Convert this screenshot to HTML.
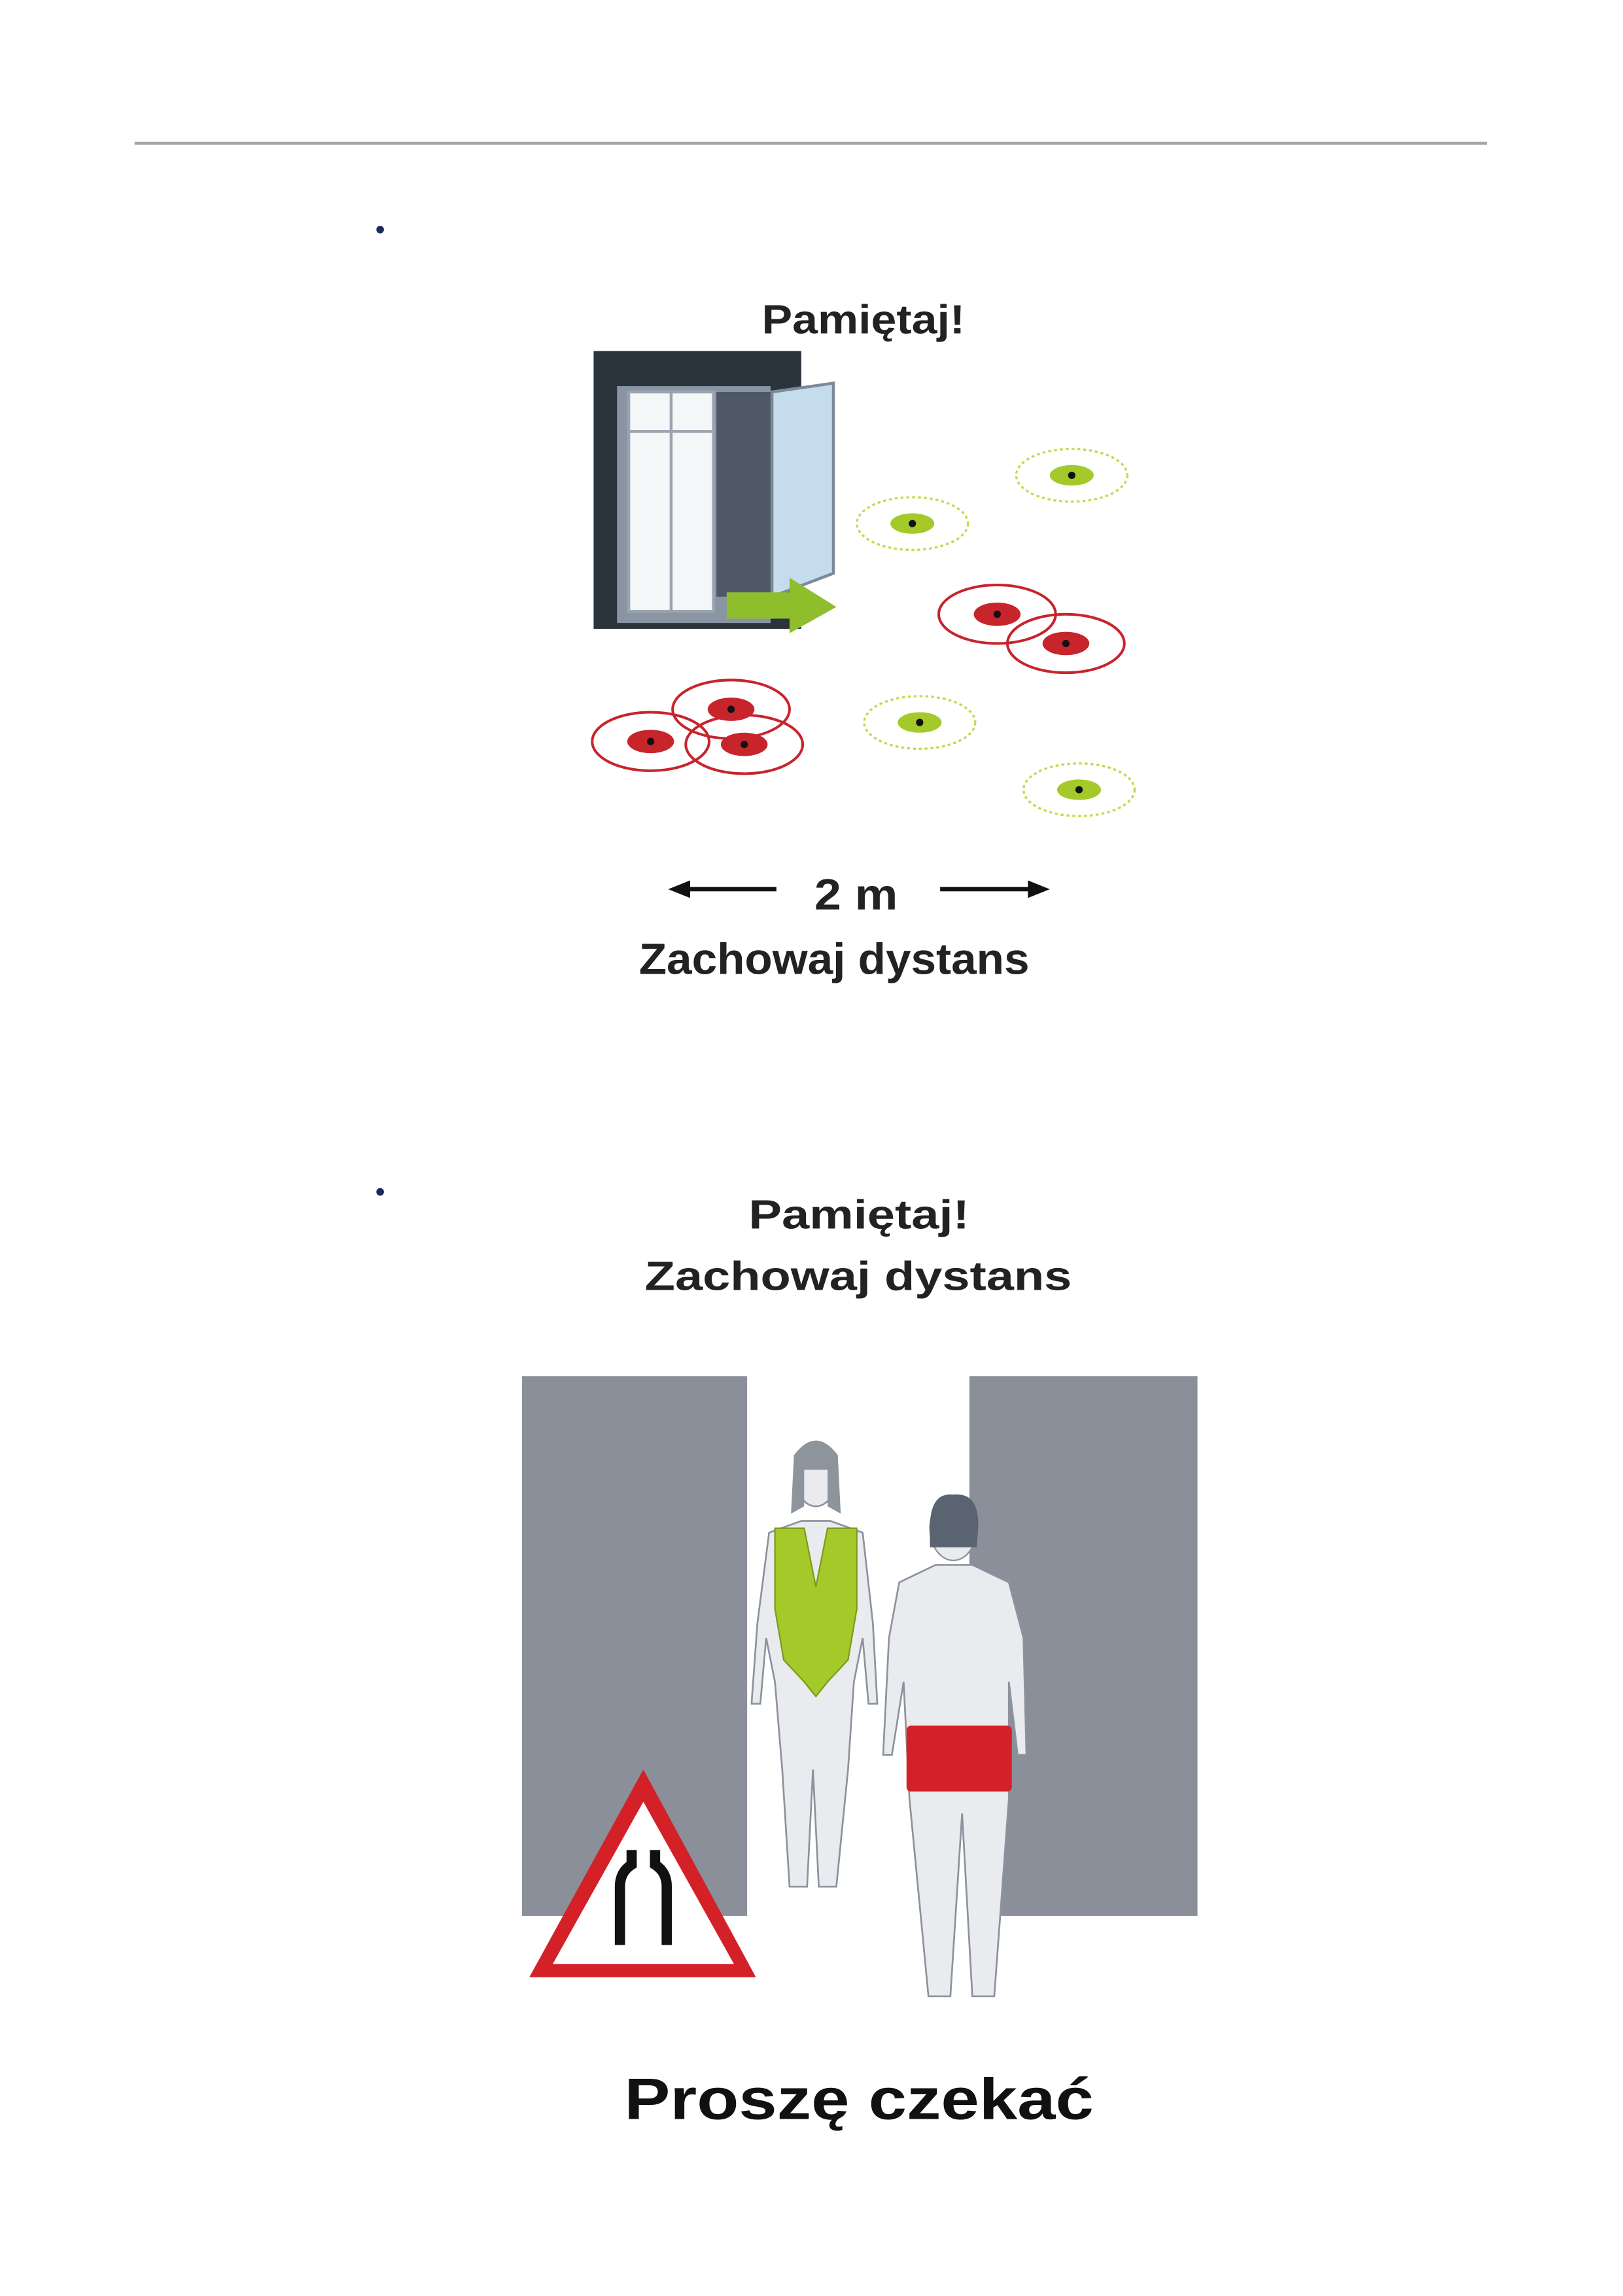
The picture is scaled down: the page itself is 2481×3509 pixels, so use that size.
<!DOCTYPE html>
<html><head><meta charset="utf-8"><style>
html,body{margin:0;padding:0;background:#fff}
svg{display:block}
</style></head><body>
<svg width="2481" height="3509" viewBox="0 0 2481 3509" xmlns="http://www.w3.org/2000/svg">
<g transform="scale(2.2351)">
<line x1="92" y1="98" x2="1017" y2="98" stroke="#a6a6a6" stroke-width="2"/>
<circle cx="260" cy="157" r="2.6" fill="#1a2a5a"/>
<circle cx="260" cy="815" r="2.6" fill="#1a2a5a"/>

<!-- image 1 -->
<text x="521" y="228" textLength="139" lengthAdjust="spacingAndGlyphs" font-family="Liberation Sans, sans-serif" font-weight="bold" font-size="28" fill="#222">Pamiętaj!</text>
<rect x="406" y="240" width="142" height="190" fill="#2b333d"/>
<rect x="422" y="264" width="105" height="162" fill="#8995a3"/>
<rect x="430" y="268" width="58" height="150" fill="#f4f6f8" stroke="#9aa4b0" stroke-width="2"/>
<line x1="459" y1="268" x2="459" y2="418" stroke="#9aa4b0" stroke-width="2"/>
<line x1="430" y1="295" x2="488" y2="295" stroke="#9aa4b0" stroke-width="2"/>
<rect x="490" y="268" width="38" height="140" fill="#4f5966"/>
<polygon points="528,268 570,262 570,392 528,408" fill="#c5dcef" stroke="#7c8a98" stroke-width="2"/>
<polygon points="497,405 540,405 540,395 572,415 540,433 540,423 497,423" fill="#8fbe2c"/>
<g fill="none" stroke-dasharray="2,2" stroke-width="1.5">
<ellipse cx="733" cy="325" rx="38" ry="18" stroke="#c8d84a"/>
<ellipse cx="624" cy="358" rx="38" ry="18" stroke="#c8d84a"/>
<ellipse cx="629" cy="494" rx="38" ry="18" stroke="#c8d84a"/>
<ellipse cx="738" cy="540" rx="38" ry="18" stroke="#c8d84a"/>
</g>
<g fill="none" stroke="#c8242c" stroke-width="1.8">
<ellipse cx="682" cy="420" rx="40" ry="20"/>
<ellipse cx="729" cy="440" rx="40" ry="20"/>
<ellipse cx="445" cy="507" rx="40" ry="20"/>
<ellipse cx="500" cy="485" rx="40" ry="20"/>
<ellipse cx="509" cy="509" rx="40" ry="20"/>
</g>
<g fill="#a4c92a">
<ellipse cx="733" cy="325" rx="15" ry="7"/><ellipse cx="624" cy="358" rx="15" ry="7"/>
<ellipse cx="629" cy="494" rx="15" ry="7"/><ellipse cx="738" cy="540" rx="15" ry="7"/>
</g>
<g fill="#c8242c">
<ellipse cx="682" cy="420" rx="16" ry="8"/><ellipse cx="729" cy="440" rx="16" ry="8"/>
<ellipse cx="445" cy="507" rx="16" ry="8"/><ellipse cx="500" cy="485" rx="16" ry="8"/>
<ellipse cx="509" cy="509" rx="16" ry="8"/>
</g>
<g fill="#111">
<circle cx="733" cy="325" r="2.5"/><circle cx="624" cy="358" r="2.5"/><circle cx="629" cy="494" r="2.5"/><circle cx="738" cy="540" r="2.5"/>
<circle cx="682" cy="420" r="2.5"/><circle cx="729" cy="440" r="2.5"/><circle cx="445" cy="507" r="2.5"/><circle cx="500" cy="485" r="2.5"/><circle cx="509" cy="509" r="2.5"/>
</g>
<line x1="468" y1="608" x2="531" y2="608" stroke="#111" stroke-width="3"/>
<polygon points="457,608 472,602 472,614" fill="#111"/>
<line x1="643" y1="608" x2="706" y2="608" stroke="#111" stroke-width="3"/>
<polygon points="718,608 703,602 703,614" fill="#111"/>
<text x="557" y="622" textLength="57" lengthAdjust="spacingAndGlyphs" font-family="Liberation Sans, sans-serif" font-weight="bold" font-size="30" fill="#222">2 m</text>
<text x="437" y="666" textLength="267" lengthAdjust="spacingAndGlyphs" font-family="Liberation Sans, sans-serif" font-weight="bold" font-size="30" fill="#222">Zachowaj dystans</text>

<!-- image 2 -->
<text x="512" y="840" textLength="151" lengthAdjust="spacingAndGlyphs" font-family="Liberation Sans, sans-serif" font-weight="bold" font-size="28" fill="#222">Pamiętaj!</text>
<text x="441" y="882" textLength="292" lengthAdjust="spacingAndGlyphs" font-family="Liberation Sans, sans-serif" font-weight="bold" font-size="28" fill="#222">Zachowaj dystans</text>
<rect x="357" y="941" width="154" height="369" fill="#8a8f9a"/>
<rect x="663" y="941" width="156" height="369" fill="#8a8f9a"/>
<!-- woman -->
<g stroke="#8c939c" stroke-width="1.2" fill="#e9ebee">
<path d="M548,1040 L568,1040 L590,1048 L597,1110 L600,1165 L594,1165 L590,1120 L584,1150 L580,1210 L572,1290 L560,1290 L556,1210 L552,1290 L540,1290 L535,1210 L530,1150 L524,1120 L520,1165 L514,1165 L518,1110 L526,1048 Z"/>
<ellipse cx="558" cy="1010" rx="14" ry="20"/>
</g>
<path d="M543,995 Q558,975 573,995 L575,1035 L566,1030 L566,1005 L550,1005 L550,1030 L541,1035 Z" fill="#8e949c"/>
<path d="M530,1045 L550,1045 L558,1085 L566,1045 L586,1045 L586,1100 L580,1135 L566,1150 L558,1160 L550,1150 L536,1135 L530,1100 Z" fill="#a6c92a" stroke="#7c9a1e" stroke-width="1"/>
<!-- man -->
<g stroke="#8c939c" stroke-width="1.2" fill="#e9ebee">
<path d="M640,1070 L665,1070 L690,1082 L700,1120 L702,1200 L696,1200 L690,1150 L690,1230 L680,1365 L665,1365 L658,1240 L650,1365 L635,1365 L622,1230 L618,1150 L610,1200 L604,1200 L608,1120 L615,1082 Z"/>
</g>
<ellipse cx="652" cy="1045" rx="16" ry="22" fill="#e9ebee" stroke="#8c939c"/>
<path d="M636,1045 Q636,1020 652,1022 Q670,1020 669,1045 L668,1058 L636,1058 Z" fill="#5a6470"/>
<rect x="620" y="1180" width="72" height="45" rx="3" fill="#d42027"/>
<!-- sign -->
<polygon points="440,1210 362,1352 517,1352" fill="#d42027"/>
<polygon points="440,1232 378,1343 502,1343" fill="#fff"/>
<path d="M424,1330 L424,1290 Q424,1280 432,1275 L432,1265 M456,1330 L456,1290 Q456,1280 448,1275 L448,1265" fill="none" stroke="#111" stroke-width="7"/>
<text x="427" y="1449" textLength="321" lengthAdjust="spacingAndGlyphs" font-family="Liberation Sans, sans-serif" font-weight="bold" font-size="40" fill="#111">Proszę czekać</text>
</g>
</svg>
</body></html>
